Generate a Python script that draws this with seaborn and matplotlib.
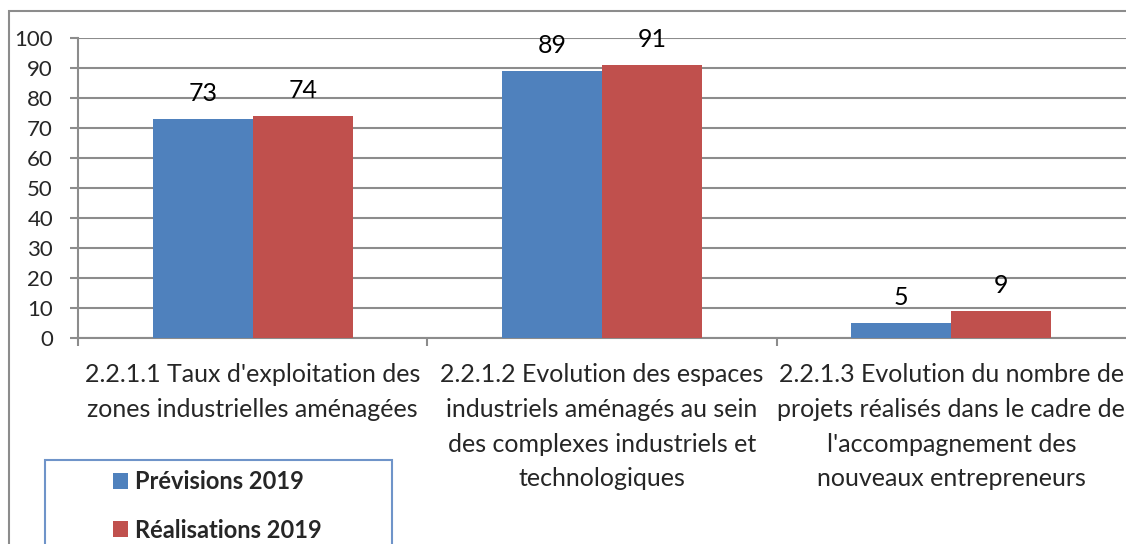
import matplotlib.pyplot as plt
import matplotlib as mpl
import numpy as np
import pandas as pd
import seaborn as sns
from matplotlib.patches import Rectangle

categories = [
    "2.2.1.1 Taux d'exploitation des\nzones industrielles aménagées",
    "2.2.1.2 Evolution des espaces\nindustriels aménagés au sein\ndes complexes industriels et\ntechnologiques",
    "2.2.1.3 Evolution du nombre de\nprojets réalisés dans le cadre de\nl'accompagnement des\nnouveaux entrepreneurs",
]
series_names = ['Prévisions 2019', 'Réalisations 2019']
previsions = [73, 89, 5]
realisations = [74, 91, 9]
colors = ['#4F81BD', '#C0504D']
y_ticks = [0, 10, 20, 30, 40, 50, 60, 70, 80, 90, 100]


def main():
    df = pd.DataFrame({
        'cat': categories * 2,
        'serie': [series_names[0]] * 3 + [series_names[1]] * 3,
        'val': previsions + realisations,
    })
    sns.set_style('white')
    mpl.rcParams['font.family'] = ['Lato', 'DejaVu Sans']
    fig = plt.figure(figsize=(11.26, 5.44), dpi=100)
    ax = fig.add_axes([0.0693, 0.3787, 0.9307, 0.5515])
    sns.barplot(data=df, x='cat', y='val', hue='serie', palette=colors,
                saturation=1, width=0.573, ax=ax, legend=True, zorder=3,
                linewidth=0)

    for cont in ax.containers:
        ax.bar_label(cont, labels=[f'{v:g}' for v in cont.datavalues],
                     padding=10, fontsize=18, color='black')

    ax.set_ylim(0, 100)
    ax.set_xlim(-0.5, 2.5)
    ax.set_yticks(y_ticks)
    ax.yaxis.grid(True, color='#8c8c8c', linewidth=1.5, zorder=0)
    ax.set_axisbelow(True)
    ax.tick_params(axis='y', labelsize=16, length=6, width=1.5, color='#8c8c8c',
                   pad=12, left=True)
    ax.set_xticks([0, 1, 2])
    ax.set_xticklabels(categories, fontsize=18, linespacing=1.62)
    ax.tick_params(axis='x', length=0, pad=18)
    ax.set_xticks([-0.5, 0.5, 1.5], minor=True)
    ax.tick_params(axis='x', which='minor', length=6, width=1.5, color='#8c8c8c',
                   bottom=True)
    ax.set_xlabel('')
    ax.set_ylabel('')
    for s in ['top', 'right']:
        ax.spines[s].set_visible(False)
    ax.spines['left'].set_color('#8c8c8c')
    ax.spines['left'].set_linewidth(1.5)
    ax.spines['bottom'].set_color('#8c8c8c')
    ax.spines['bottom'].set_linewidth(1.5)

    handles, labels = ax.get_legend_handles_labels()
    ax.legend_.remove()
    fig.legend(handles, labels, loc='upper left',
               bbox_to_anchor=(113 / 1126, 1 - 470 / 544),
               frameon=False, prop={'weight': 'bold', 'size': 17},
               handlelength=0.65, handleheight=0.65, handletextpad=0.3,
               labelspacing=1.08, borderpad=0, borderaxespad=0)

    fig.patches.append(Rectangle((45 / 1126, -0.1), 347 / 1126, 0.1 + 1 - 460 / 544,
                                 transform=fig.transFigure, fill=False,
                                 edgecolor='#6f94c9', linewidth=1.5))
    fig.patches.append(Rectangle((9 / 1126, -0.1), 1.2, 1.1 - 11 / 544,
                                 transform=fig.transFigure, fill=False,
                                 edgecolor='#8c8c8c', linewidth=1.5))
    fig.savefig('out.png', dpi=100)


if __name__ == '__main__':
    main()
